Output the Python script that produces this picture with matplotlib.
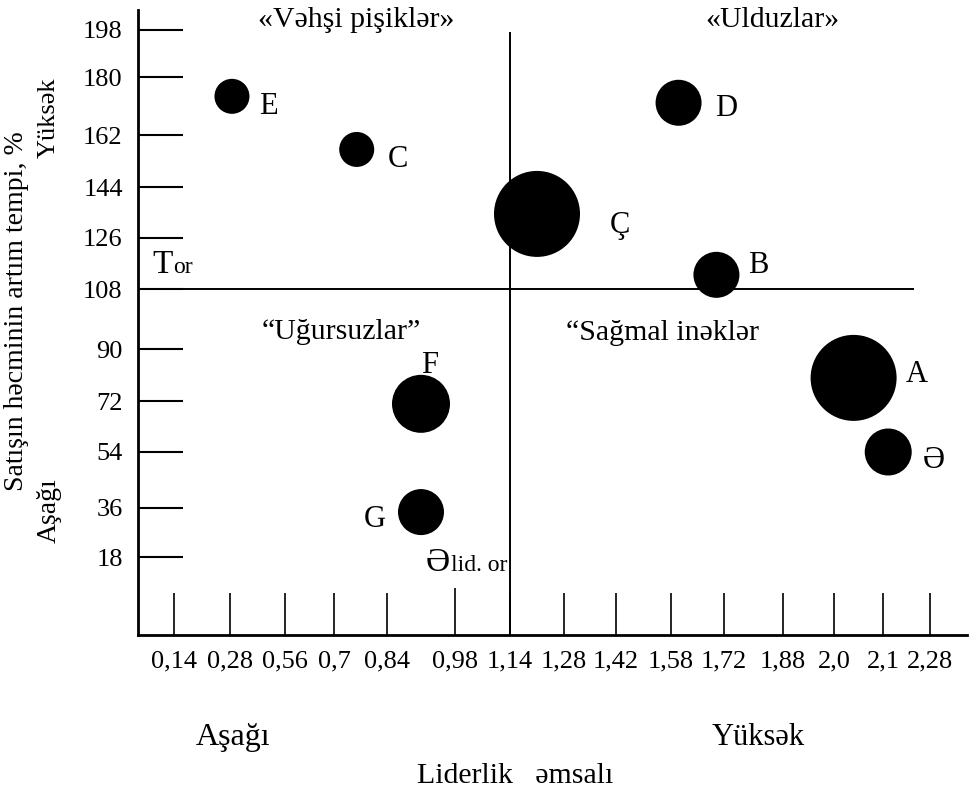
import numpy as np
import matplotlib
matplotlib.use('Agg')
import matplotlib.pyplot as plt

plt.rcParams['font.family'] = ['Liberation Serif', 'DejaVu Serif']

# Axis ticks (leadership coefficient, sales growth %)
lead_ticks = [0.14, 0.28, 0.56, 0.7, 0.84, 0.98, 1.14, 1.28, 1.42, 1.58, 1.72, 1.88, 2.0, 2.1, 2.28]
lead_labels = ['0,14', '0,28', '0,56', '0,7', '0,84', '0,98', '1,14', '1,28', '1,42',
               '1,58', '1,72', '1,88', '2,0', '2,1', '2,28']
growth_ticks = [18, 36, 54, 72, 90, 108, 126, 144, 162, 180, 198]

# Products
names = ['E', 'C', 'D', 'Ç', 'B', 'F', 'G', 'A', 'Ə']
leadership = [0.29, 0.76, 1.60, 1.21, 1.70, 0.91, 0.91, 2.04, 2.12]
growth = [174, 157, 172, 134.5, 113, 71, 34.5, 80, 54]
volume = [35, 35, 46, 86, 46, 58, 46, 86, 47]

growth_avg = 108   # T_or
lead_avg = 1.14    # Ə_lid.or

quadrants = ['«Vəhşi pişiklər»', '«Ulduzlar»', '“Uğursuzlar”', '“Sağmal inəklər']

# Layout --------------------------------------------------------------
W, H = 974, 792

# the drawn axes are not evenly spaced: tick value -> pixel column / row
x_vals = [0.0] + lead_ticks + [2.45]
x_px = [119, 174, 230, 285, 334, 387, 455, 510, 564, 616, 671, 724, 783, 834, 883, 930, 974]
y_vals = [-18, 0] + growth_ticks + [216]
y_px = np.array([661, 609, 557, 508, 452, 401, 349, 289, 238, 187, 135, 77, 30, -22])
y_up = H - y_px


def fwd_x(v):
    return np.interp(v, x_vals, x_px)


def inv_x(p):
    return np.interp(p, x_px, x_vals)


def fwd_y(v):
    return np.interp(v, y_vals, y_up)


def inv_y(p):
    return np.interp(p, y_up, y_vals)


# label offsets from bubble centre, pixels (right, down)
label_off = {'E': (36, 18), 'C': (41, 18), 'D': (48, 13), 'Ç': (83, 19), 'B': (42, -2),
             'F': (9, -31), 'G': (-46, 15), 'A': (63, 4), 'Ə': (46, 16)}


def ftext(x, y, s, **kw):
    fig.text(x / W, 1 - y / H, s, **kw)


fig = plt.figure(figsize=(W / 100, H / 100), dpi=100)
left, right, top, bottom = 138, 967, 10, 635
ax = fig.add_axes([left / W, (H - bottom) / H, (right - left) / W, (bottom - top) / H])

ax.set_xscale('function', functions=(fwd_x, inv_x))
ax.set_yscale('function', functions=(fwd_y, inv_y))
ax.set_xlim(inv_x(left), inv_x(right))
ax.set_ylim(inv_y(H - bottom), inv_y(H - top))

ax.set_xticks(lead_ticks)
ax.set_xticklabels(lead_labels)
ax.set_yticks(growth_ticks)
ax.set_yticklabels([str(t) for t in growth_ticks])
ax.minorticks_off()

ax.tick_params(axis='x', direction='in', length=30, width=1.2, pad=11, labelsize=19)
ax.tick_params(axis='y', direction='in', length=32.5, width=1.5, pad=11, labelsize=19)
ax.xaxis.get_major_ticks()[5].tick1line.set_markersize(34)

for side in ['top', 'right']:
    ax.spines[side].set_visible(False)
for side in ['left', 'bottom']:
    ax.spines[side].set_linewidth(2)

# quadrant dividers
ax.axvline(lead_avg, ymin=0, ymax=(bottom - 33) / (bottom - top), color='black', lw=1.4)
ax.hlines(growth_avg, inv_x(left), inv_x(914), color='black', lw=1.4)

ax.scatter(leadership, growth, s=(np.array(volume) * 0.72) ** 2, color='black',
           linewidths=0, zorder=3, clip_on=False)

for n, x, y in zip(names, leadership, growth):
    dx, dy = label_off[n]
    ax.annotate(n, (x, y), xytext=(dx * 0.72, -dy * 0.72), textcoords='offset points',
                ha='center', va='baseline', fontsize=22)

# T_or and Ə_lid.or markers
ax.annotate('T', (0, growth_avg), xycoords=('axes fraction', 'data'),
            xytext=(14 * 0.72, 16 * 0.72), textcoords='offset points',
            ha='left', va='baseline', fontsize=24)
ax.annotate('or', (0, growth_avg), xycoords=('axes fraction', 'data'),
            xytext=(35 * 0.72, 16 * 0.72), textcoords='offset points',
            ha='left', va='baseline', fontsize=17)
ax.annotate('lid. or', (lead_avg, 18), xytext=(-3 * 0.72, -14 * 0.72),
            textcoords='offset points', ha='right', va='baseline', fontsize=17)
ax.annotate('Ə', (lead_avg, 18), xytext=(-60 * 0.72, -14 * 0.72),
            textcoords='offset points', ha='right', va='baseline', fontsize=24)

# quadrant names
ftext(356, 27, quadrants[0], ha='center', va='baseline', fontsize=21.5)
ftext(772, 27, quadrants[1], ha='center', va='baseline', fontsize=21.5)
ftext(341, 339, quadrants[2], ha='center', va='baseline', fontsize=21.5)
ftext(662, 340, quadrants[3], ha='center', va='baseline', fontsize=21.5)

# axis titles
ftext(17, 311, 'Satışın həcminin artım tempi, %', rotation=90, ha='center', va='center', fontsize=20)
ftext(49, 118, 'Yüksək', rotation=90, ha='center', va='center', fontsize=19)
ftext(49, 511, 'Aşağı', rotation=90, ha='center', va='center', fontsize=20)
ftext(233, 745, 'Aşağı', ha='center', va='baseline', fontsize=23)
ftext(758, 745, 'Yüksək', ha='center', va='baseline', fontsize=22)
ftext(515, 783, 'Liderlik   əmsalı', ha='center', va='baseline', fontsize=21.5)

fig.savefig('out.png', dpi=100)
